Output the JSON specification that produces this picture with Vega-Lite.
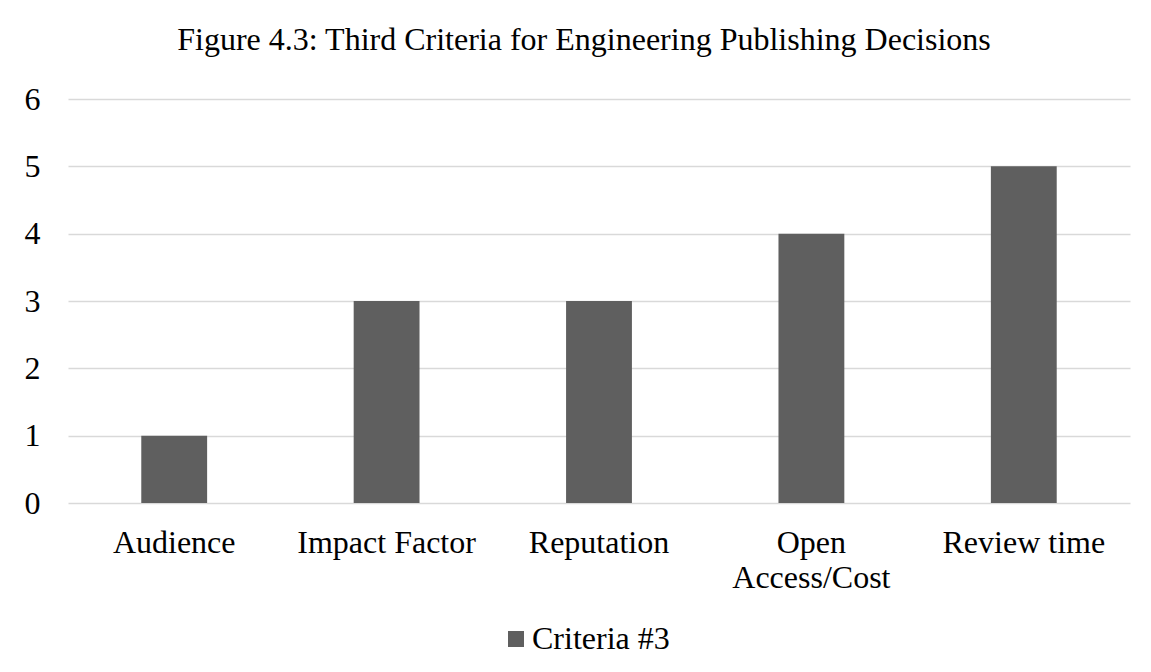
{
  "$schema": "https://vega.github.io/schema/vega-lite/v6.json",
  "width": 1062,
  "height": 404,
  "autosize": {"type": "none"},
  "padding": {"left": 68, "top": 99, "right": 21, "bottom": 169},
  "background": "white",
  "title": {
    "text": "Figure 4.3: Third Criteria for Engineering Publishing Decisions",
    "font": "Liberation Serif",
    "fontSize": 32,
    "fontWeight": "normal",
    "color": "#000000",
    "frame": "group",
    "anchor": "middle",
    "baseline": "alphabetic",
    "offset": 1,
    "dx": -15
  },
  "data": {
    "values": [
      {"criterion": "Audience", "count": 1, "series": "Criteria #3"},
      {"criterion": "Impact Factor", "count": 3, "series": "Criteria #3"},
      {"criterion": "Reputation", "count": 3, "series": "Criteria #3"},
      {"criterion": "Open Access/Cost", "count": 4, "series": "Criteria #3"},
      {"criterion": "Review time", "count": 5, "series": "Criteria #3"}
    ]
  },
  "mark": {"type": "bar"},
  "encoding": {
    "x": {
      "field": "criterion",
      "type": "nominal",
      "sort": null,
      "scale": {"paddingInner": 0.69, "paddingOuter": 0.345},
      "axis": {
        "title": null,
        "labelAngle": 0,
        "labelFont": "Liberation Serif",
        "labelFontSize": 32,
        "labelColor": "#000000",
        "labelPadding": 24,
        "labelLineHeight": 35,
        "labelExpr": "datum.value == 'Open Access/Cost' ? ['Open', 'Access/Cost'] : datum.value",
        "ticks": false,
        "tickSize": 0,
        "domain": false,
        "grid": false
      }
    },
    "y": {
      "field": "count",
      "type": "quantitative",
      "scale": {"domain": [0, 6]},
      "axis": {
        "title": null,
        "values": [0, 1, 2, 3, 4, 5, 6],
        "labelFont": "Liberation Serif",
        "labelFontSize": 32,
        "labelColor": "#000000",
        "labelPadding": 28,
        "ticks": false,
        "tickSize": 0,
        "domain": false,
        "grid": true,
        "gridColor": "#d9d9d9",
        "gridWidth": 1.5
      }
    },
    "color": {
      "field": "series",
      "type": "nominal",
      "scale": {"range": ["#5f5f5f"]},
      "legend": {
        "title": null,
        "orient": "none",
        "legendX": 432,
        "legendY": 524,
        "padding": 0,
        "symbolType": "square",
        "symbolSize": 256,
        "symbolStrokeWidth": 0,
        "labelFont": "Liberation Serif",
        "labelFontSize": 32,
        "labelColor": "#000000",
        "labelOffset": 0
      }
    }
  },
  "config": {
    "view": {"stroke": null}
  }
}
